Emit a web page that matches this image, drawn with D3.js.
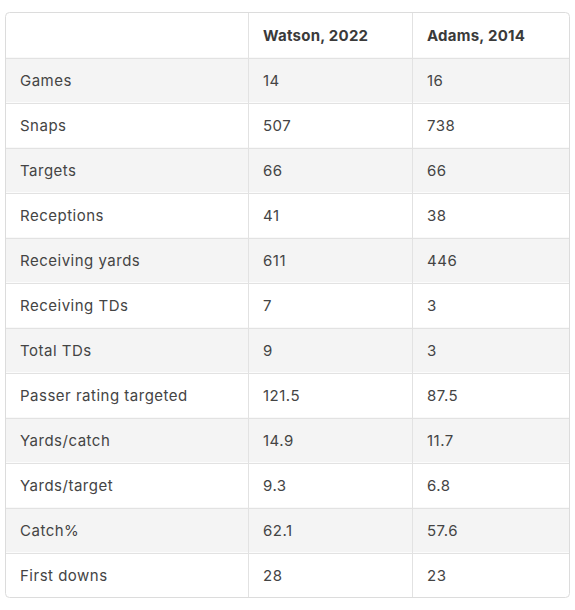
<!DOCTYPE html>
<html><head><meta charset="utf-8">
<script src="https://cdn.jsdelivr.net/npm/d3@7"></script>
<style>
body{margin:0;background:#fff;}
svg{display:block;}
</style></head>
<body>
<svg id="c" width="575" height="610"></svg>
<script>
const columns = ["", "Watson, 2022", "Adams, 2014"];
const metrics = ["Games","Snaps","Targets","Receptions","Receiving yards","Receiving TDs","Total TDs","Passer rating targeted","Yards/catch","Yards/target","Catch%","First downs"];
const watson = ["14","507","66","41","611","7","9","121.5","14.9","9.3","62.1","28"];
const adams = ["16","738","66","38","446","3","3","87.5","11.7","6.8","57.6","23"];

(function(){
const svg = d3.select("#c");
const x0 = 5.5, x1 = 569.5, y0 = 12.5, y1 = 597.5;
const colEdges = [x0, 248.5, 412.5, x1];
const rows = ["header", ...metrics];
const y = d3.scaleBand().domain(rows).range([y0, y1]);
const font = "Inter, 'Noto Sans', sans-serif";

svg.append("clipPath").attr("id", "clip").append("rect")
  .attr("x", x0).attr("y", y0).attr("width", x1-x0).attr("height", y1-y0).attr("rx", 4);

const g = svg.append("g").attr("clip-path", "url(#clip)");
g.selectAll("rect.row").data(metrics).join("rect")
  .attr("x", x0).attr("width", x1-x0)
  .attr("y", d => y(d)).attr("height", y.bandwidth())
  .attr("fill", (d,i) => i % 2 === 0 ? "#f4f4f4" : "#ffffff");

g.selectAll("line.h").data(metrics).join("line")
  .attr("x1", x0).attr("x2", x1)
  .attr("y1", d => Math.round(y(d)) + 0.5).attr("y2", d => Math.round(y(d)) + 0.5)
  .attr("stroke", "#e2e2e2").attr("stroke-width", 1);
g.selectAll("line.v").data(colEdges.slice(1, 3)).join("line")
  .attr("x1", d => d).attr("x2", d => d)
  .attr("y1", y0).attr("y2", y1)
  .attr("stroke", "#e2e2e2").attr("stroke-width", 1);

svg.append("rect").attr("x", x0).attr("y", y0).attr("width", x1-x0).attr("height", y1-y0)
  .attr("rx", 4).attr("fill", "none").attr("stroke", "#dcdcdc");

const pad = 14.5;
svg.append("g").selectAll("text").data(columns).join("text")
  .attr("x", (d,i) => colEdges[i] + pad)
  .attr("y", y("header") + y.bandwidth()/2 + 1)
  .attr("dy", "0.35em")
  .attr("font-family", font).attr("font-size", 15).attr("font-weight", 700)
  .attr("letter-spacing", "0.25px")
  .attr("fill", "#3a3a3a").text(d => d);

const table = metrics.map((m,i) => [m, watson[i], adams[i]]);
table.forEach(r => {
  svg.append("g").selectAll("text").data(r).join("text")
    .attr("x", (d,i) => colEdges[i] + pad)
    .attr("y", y(r[0]) + y.bandwidth()/2 + 1)
    .attr("dy", "0.35em")
    .attr("font-family", font).attr("font-size", 15)
    .attr("letter-spacing", "0.5px")
    .attr("fill", "#444").text(d => d);
});
})();
</script>
</body></html>
